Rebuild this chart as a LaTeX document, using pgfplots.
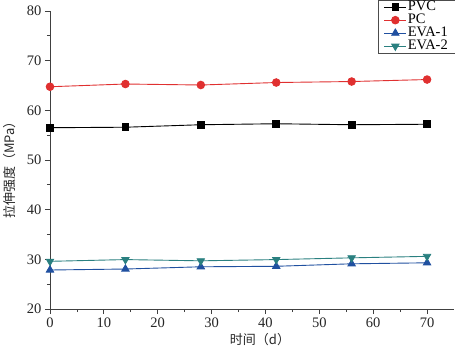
\documentclass[border=0pt]{standalone}
\usepackage{pgfplots}
\pgfplotsset{compat=1.18}
\usepackage{fontspec}
\setmainfont{Liberation Serif}
\newfontfamily\cjk{Noto Sans CJK SC}
\newcommand\legfont{\fontsize{14.5}{13}\selectfont}
\definecolor{cpvc}{HTML}{000000}
\definecolor{cpc}{HTML}{E03030}
\definecolor{ceva1}{HTML}{2050A0}
\definecolor{ceva2}{HTML}{2A8080}
\begin{document}
\begin{tikzpicture}
\useasboundingbox (-50pt,-47pt) rectangle (405pt,309pt);
\begin{axis}[
  scale only axis, width=404pt, height=298pt,
  at={(0,0)}, anchor=origin,
  xmin=0, xmax=75, ymin=20, ymax=80,
  axis lines=left, axis line style={-, thick, black!75},
  xtick={0,10,...,70}, ytick={20,30,...,80},
  minor x tick num=1, minor y tick num=1,
  tick align=outside, tick style={black!75, thick},
  major tick length=5pt, minor tick length=3pt,
  tick label style={font=\fontsize{14.5}{14.5}\selectfont, black!85},
  /pgf/number format/assume math mode=true,
  xlabel={\cjk 时间（d）}, ylabel={\cjk 拉伸强度（MPa）},
  label style={font=\fontsize{13}{13}\selectfont, black!85},
  xlabel style={at={(axis description cs:0.5,0)}, anchor=center, yshift=-31pt, xshift=8pt},
  ylabel style={at={(axis description cs:-0.099,0.4765)}, anchor=center},
  legend style={at={(1.0025,1.037)}, anchor=north east,
    draw=black!70, inner xsep=6pt, inner ysep=0.5pt, row sep=0pt, legend cell align=left,
    nodes={text height=9.5pt, text depth=2.5pt, inner ysep=0.5pt, inner xsep=1pt}},
  legend image code/.code={
    \draw[mark repeat=2,mark phase=2] plot coordinates {(0pt,0pt) (11pt,0pt) (22pt,0pt)};},
  every axis plot/.append style={line width=0.9pt},
]
\addplot[color=cpvc, mark=square*, mark size=3.3pt] coordinates {(0,56.5) (14,56.6) (28,57.1) (42,57.3) (56,57.1) (70,57.2)};
\addlegendentry{\legfont PVC}
\addplot[color=cpc, mark=*, mark size=3.8pt] coordinates {(0,64.75) (14,65.3) (28,65.1) (42,65.6) (56,65.8) (70,66.2)};
\addlegendentry{\legfont PC}
\addplot[color=ceva1, mark=triangle*, mark size=4.2pt] coordinates {(0,27.85) (14,28.05) (28,28.5) (42,28.6) (56,29.1) (70,29.3)};
\addlegendentry{\legfont EVA-1}
\addplot[color=ceva2, mark=triangle*, mark options={rotate=180}, mark size=4.2pt] coordinates {(0,29.6) (14,29.95) (28,29.7) (42,29.95) (56,30.3) (70,30.6)};
\addlegendentry{\legfont EVA-2}
\end{axis}
\end{tikzpicture}
\end{document}
